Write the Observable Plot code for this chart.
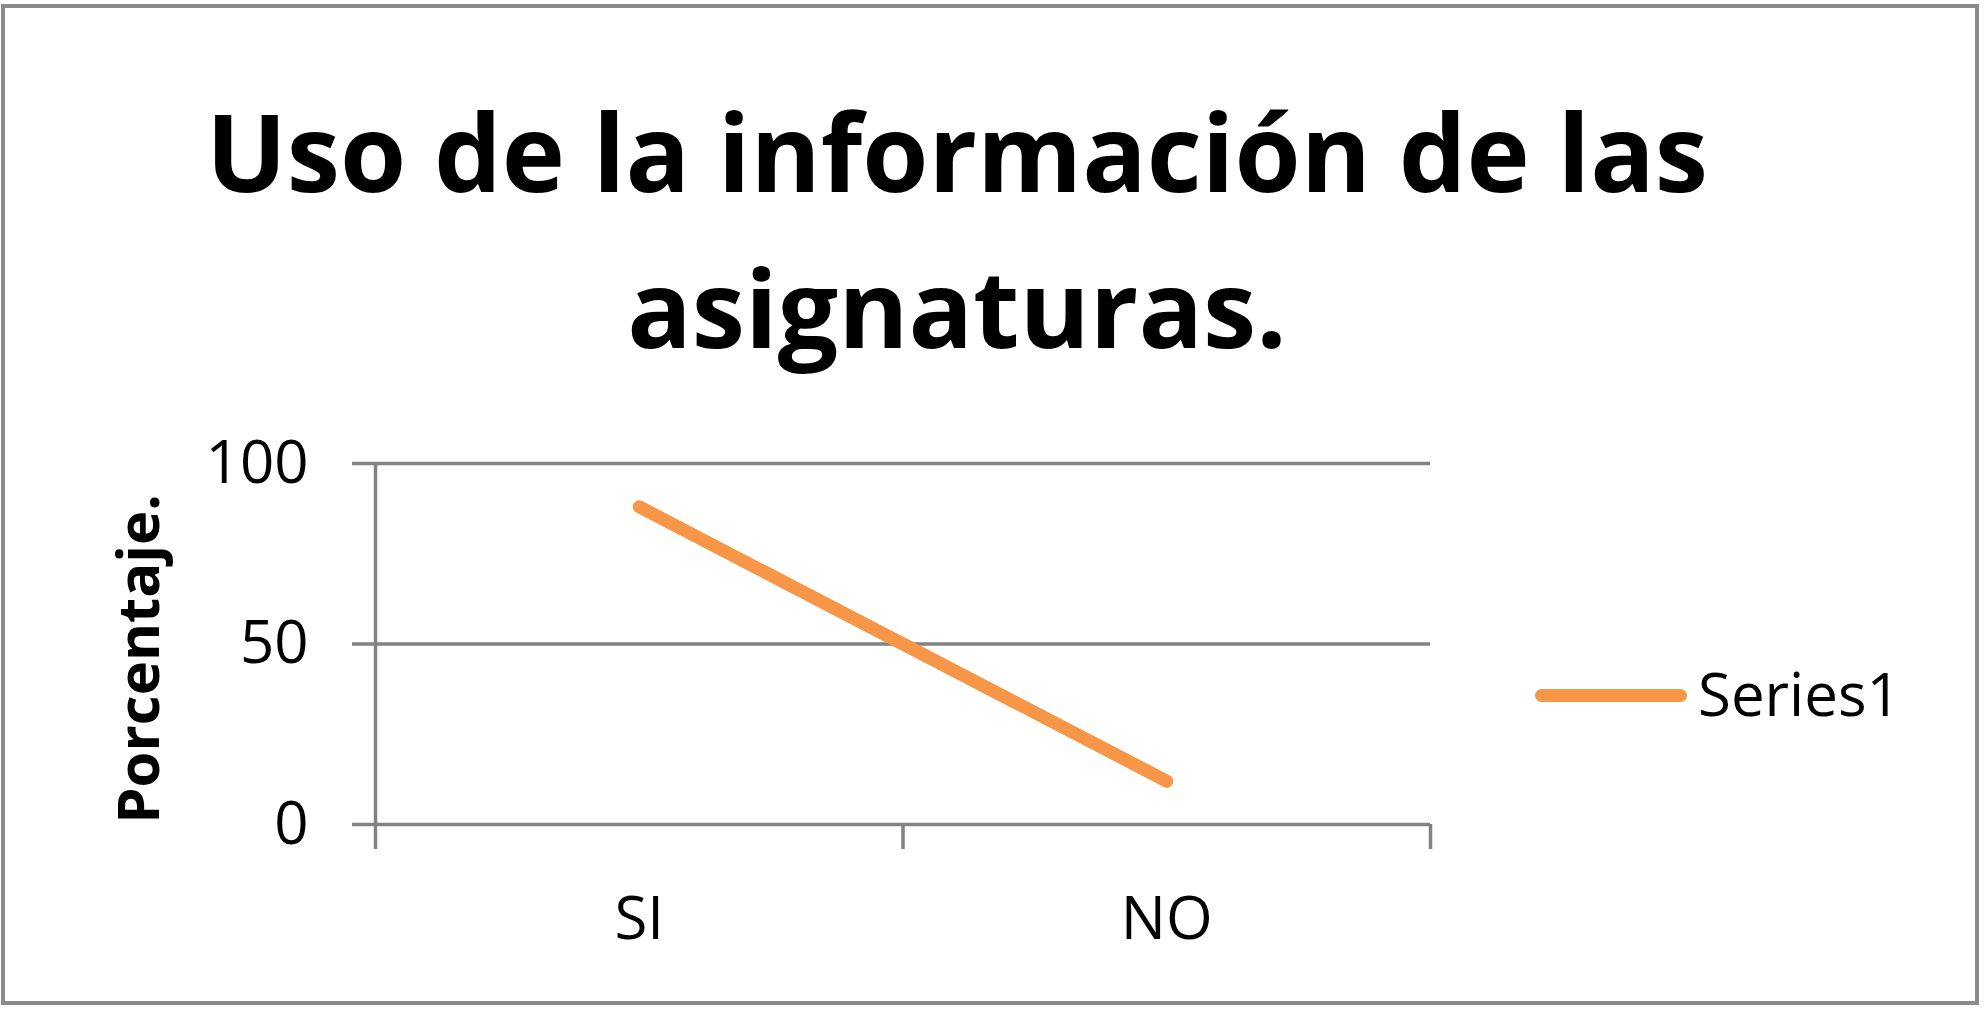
<!DOCTYPE html>
<html>
<head>
<meta charset="utf-8">
<script src="https://cdn.jsdelivr.net/npm/d3@7"></script>
<script src="https://cdn.jsdelivr.net/npm/@observablehq/plot@0.6"></script>
<style>
  body { margin: 0; background: white; }
  #wrap { position: relative; width: 1985px; height: 1011px; overflow: hidden; font-family: "Open Sans", sans-serif; }
  #marco { position: absolute; left: 1px; top: 4px; width: 1978px; height: 1001px; box-sizing: border-box; border: 4px solid #8a8a8a; }
  .titulo { position: absolute; left: 0; width: 1914px; text-align: center; font-weight: bold; font-size: 107px; line-height: 1; color: black; white-space: nowrap; }
  #chart { position: absolute; left: 0; top: 400px; }
  #leyenda-linea { position: absolute; left: 1535px; top: 689px; width: 152px; height: 13px; border-radius: 7px; background: #F79646; }
  #leyenda-texto { position: absolute; left: 1698px; top: 663px; font-size: 60px; line-height: 1; color: black; }
</style>
</head>
<body>
<div id="wrap">
  <div id="marco"></div>
  <div class="titulo" style="top:97px">Uso de la información de las</div>
  <div class="titulo" style="top:253px">asignaturas.</div>
  <div id="chart"></div>
  <div id="leyenda-linea"></div>
  <div id="leyenda-texto">Series1</div>
</div>
<script>
// datos
const categorias = ["SI", "NO"]
const valores = [88, 12]
const yTicks = [0, 50, 100]
const yLabel = "Porcentaje."

const gris = "#828282"
const naranja = "#F79646"

// cada categoría ocupa una banda; el punto va al centro
const datos = categorias.map((c, i) => ({categoria: c, pos: i + 0.5, valor: valores[i]}))
const limites = d3.range(categorias.length + 1)

let chart = Plot.plot({
  width: 1985,
  height: 611,
  marginTop: 63,
  marginBottom: 187,
  marginLeft: 375,
  marginRight: 555,
  style: {
    fontFamily: "Open Sans",
    fontSize: 60,
    color: "black",
    background: "transparent",
    overflow: "visible"
  },
  x: { domain: [0, categorias.length], axis: null },
  y: { domain: [0, 100], axis: null },
  marks: [
    // líneas de cuadrícula
    Plot.ruleY(yTicks, { stroke: gris, strokeWidth: 3.5 }),
    // eje vertical
    Plot.ruleX([0], { y1: 0, y2: 100, stroke: gris, strokeWidth: 3.5 }),
    Plot.axisY({
      ticks: yTicks,
      tickSize: 23,
      tickPadding: 44,
      stroke: gris,
      strokeWidth: 3.5,
      fontSize: 60,
      label: null
    }),
    // marcas en los límites de las categorías
    Plot.axisX({
      ticks: limites,
      tickFormat: () => "",
      tickSize: 25,
      stroke: gris,
      strokeWidth: 3.5,
      label: null
    }),
    Plot.axisX({
      ticks: datos.map(d => d.pos),
      tickFormat: p => categorias[Math.floor(p)],
      tickSize: 0,
      tickPadding: 72,
      fontSize: 60,
      label: null
    }),
    Plot.text([yLabel], {
      text: d => d,
      frameAnchor: "left",
      textAnchor: "middle",
      rotate: -90,
      dx: -235,
      dy: 15,
      fontSize: 58,
      fontWeight: "bold"
    }),
    Plot.line(datos, {
      x: "pos",
      y: "valor",
      stroke: naranja,
      strokeWidth: 13,
      strokeLinecap: "round"
    })
  ]
})

d3.select('#chart').append(() => chart)
</script>
</body>
</html>
